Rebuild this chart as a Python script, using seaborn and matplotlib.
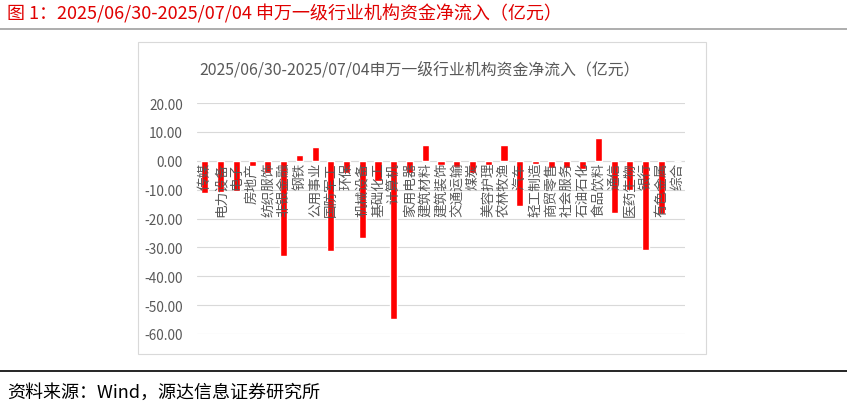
import matplotlib
matplotlib.use("Agg")
import matplotlib.pyplot as plt
import seaborn as sns
import pandas as pd
from matplotlib.lines import Line2D
from matplotlib.patches import Rectangle

categories = ["传媒", "电力设备", "电子", "房地产", "纺织服饰", "非银金融", "钢铁", "公用事业",
              "国防军工", "环保", "机械设备", "基础化工", "计算机", "家用电器", "建筑材料", "建筑装饰",
              "交通运输", "煤炭", "美容护理", "农林牧渔", "汽车", "轻工制造", "商贸零售", "社会服务",
              "石油石化", "食品饮料", "通信", "医药生物", "银行", "有色金属", "综合"]
values = [-11.0, -10.7, -10.4, -1.7, -4.3, -32.9, 1.9, 4.9,
          -31.4, -4.3, -26.8, -7.0, -54.9, -4.3, 5.5, -1.4,
          -2.3, -4.1, -1.5, 5.5, -15.6, -1.2, -2.6, -2.6,
          -2.7, 7.9, -18.0, -10.1, -30.8, -18.4, -0.2]
yticks = [20, 10, 0, -10, -20, -30, -40, -50, -60]

fig_title = "图 1：2025/06/30-2025/07/04 申万一级行业机构资金净流入（亿元）"
chart_title = "2025/06/30-2025/07/04申万一级行业机构资金净流入（亿元）"
source = "资料来源：Wind，源达信息证券研究所"

sns.set_theme(style="white")
plt.rcParams['font.family'] = ['Noto Sans CJK SC', 'DejaVu Sans']

W, H = 847, 410
fig = plt.figure(figsize=(W / 100, H / 100), dpi=100)
fig.patch.set_facecolor("white")

def fx(px):
    return px / W

def fy(py):
    return 1 - py / H

# chart border box
fig.add_artist(Rectangle((fx(138), fy(355)), fx(706) - fx(138), fy(43) - fy(355),
                         transform=fig.transFigure, fill=False, edgecolor="#D9D9D9", lw=0.8))
# top / bottom rules
fig.add_artist(Line2D([0, 1], [fy(30), fy(30)], transform=fig.transFigure, color="#A0A0A0", lw=1.2))
fig.add_artist(Line2D([0, 1], [fy(372), fy(372)], transform=fig.transFigure, color="#000000", lw=1.2))

fig.text(fx(7), fy(14), fig_title, color="#E00000", fontsize=13, va="center", ha="left")
fig.text(fx(7), fy(393), source, color="#000000", fontsize=13, va="center", ha="left")
fig.text(fx(420), fy(70), chart_title, color="#595959", fontsize=11.4, va="center", ha="center")

ax = fig.add_axes([fx(197), fy(335), fx(685) - fx(197), fy(104) - fy(335)])
df = pd.DataFrame({"cat": categories, "val": values})
sns.barplot(data=df, x="cat", y="val", color="#FF0000", width=0.45, ax=ax, saturation=1)

ax.set_ylim(-60, 20)
ax.set_xlim(-0.5, len(categories) - 0.5)
ax.set_yticks(yticks)
ax.set_yticklabels([f"{v:.2f}" for v in yticks], color="#595959", fontsize=9.8)
ax.tick_params(axis="y", length=0, pad=10)
ax.set_xticks([])
ax.set_xlabel("")
ax.set_ylabel("")
for s in ax.spines.values():
    s.set_visible(False)
ax.grid(axis="y", color="#D9D9D9", lw=0.8)
ax.set_axisbelow(True)
ax.axhline(0, color="#D9D9D9", lw=0.8, zorder=0)

for i, c in enumerate(categories):
    ax.text(i, -0.4, c, ha="center", va="top", rotation=90, rotation_mode="default",
            color="#595959", fontsize=9.8, zorder=5)

fig.savefig("out.png", dpi=100)
